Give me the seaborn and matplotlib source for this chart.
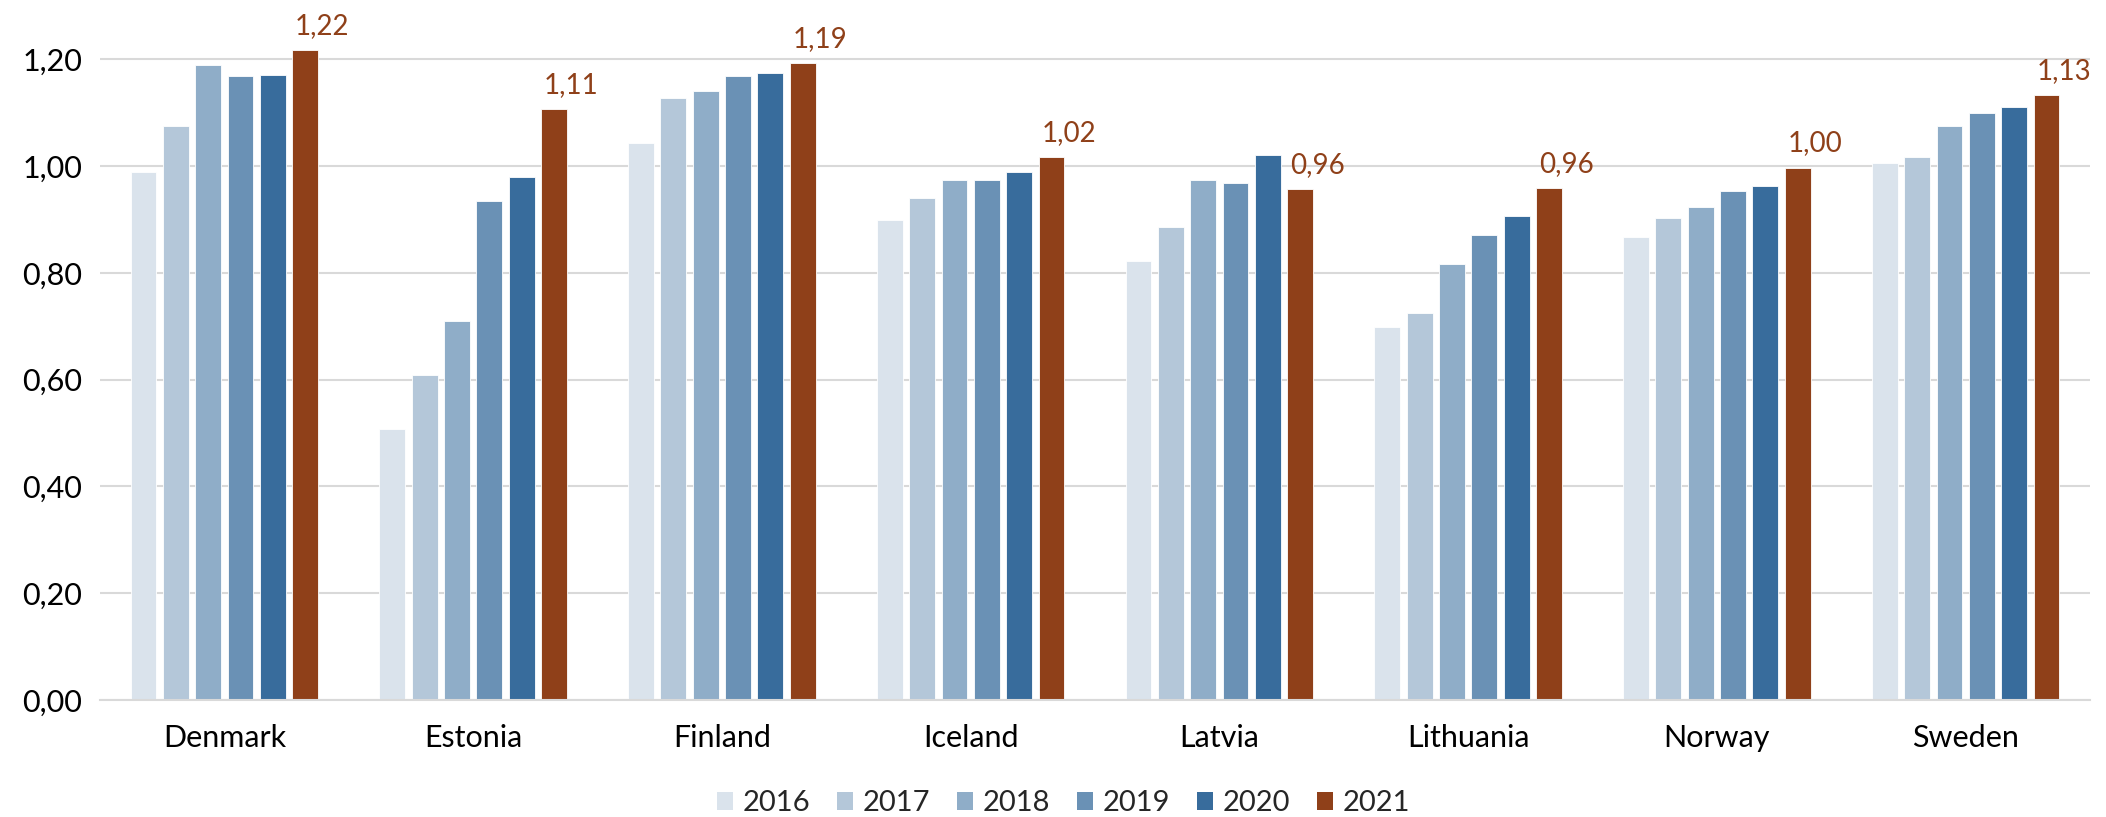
import matplotlib
matplotlib.use("Agg")
import matplotlib.pyplot as plt
from matplotlib.patches import Patch
import seaborn as sns
import pandas as pd

countries = ["Denmark", "Estonia", "Finland", "Iceland", "Latvia", "Lithuania", "Norway", "Sweden"]
years = ["2016", "2017", "2018", "2019", "2020", "2021"]
v2016 = [0.988, 0.508, 1.044, 0.898, 0.823, 0.698, 0.867, 1.005]
v2017 = [1.074, 0.608, 1.127, 0.941, 0.886, 0.724, 0.903, 1.016]
v2018 = [1.190, 0.710, 1.141, 0.974, 0.974, 0.817, 0.924, 1.074]
v2019 = [1.168, 0.935, 1.168, 0.974, 0.969, 0.870, 0.954, 1.100]
v2020 = [1.170, 0.980, 1.174, 0.989, 1.021, 0.906, 0.963, 1.111]
v2021 = [1.217, 1.107, 1.192, 1.016, 0.957, 0.959, 0.997, 1.133]
colors = ["#DAE3EC", "#B4C7D9", "#8FADC8", "#6A91B5", "#386C9C", "#8F4019"]

series = [v2016, v2017, v2018, v2019, v2020, v2021]
rows = []
for y, vals in zip(years, series):
    for c, v in zip(countries, vals):
        rows.append({"country": c, "year": y, "value": v})
df = pd.DataFrame(rows)

sns.set_theme(style="white")
plt.rcParams["font.family"] = ["Lato", "DejaVu Sans"]
FS = 22

fig = plt.figure(figsize=(21.06, 8.17), dpi=100)
ax = fig.add_axes([100 / 2106, 117 / 817, 1990 / 2106, 700 / 817])

sns.barplot(data=df, x="country", y="value", hue="year", hue_order=years,
            order=countries, palette=colors, width=0.78, gap=0.2,
            ax=ax, legend=False, edgecolor="white", linewidth=0.6, saturation=1)

ax.set_ylim(0, 700 / 534)
ticks = [0, 0.2, 0.4, 0.6, 0.8, 1.0, 1.2]
ax.set_yticks(ticks)
ax.set_yticklabels([f"{t:.2f}".replace(".", ",") for t in ticks])
ax.yaxis.grid(True, color="#D9D9D9", linewidth=1.5)
ax.set_axisbelow(True)
for s in ["top", "right", "left"]:
    ax.spines[s].set_visible(False)
ax.spines["bottom"].set_color("#D9D9D9")
ax.spines["bottom"].set_linewidth(1.5)
ax.set_xlabel("")
ax.set_ylabel("")
ax.tick_params(axis="x", length=0, pad=17, labelsize=FS, colors="black")
ax.tick_params(axis="y", length=0, pad=13, labelsize=FS, colors="black")
ax.set_xlim(-0.5, len(countries) - 0.5)

# data labels for last series
last = ax.containers[-1]
for patch, v in zip(last.patches, v2021):
    ax.annotate(f"{v:.2f}".replace(".", ","), (patch.get_x(), patch.get_height()),
                xytext=(2, 8), textcoords="offset points", ha="left", va="bottom",
                fontsize=20, color="#8F4019")

handles = [Patch(facecolor=c, edgecolor="none", label=y) for c, y in zip(colors, years)]
fig.legend(handles=handles, loc="center", bbox_to_anchor=(0.505, 0.017), ncol=6,
           frameon=False, fontsize=21, handlelength=0.55, handleheight=0.55,
           handletextpad=0.35, columnspacing=0.9)

fig.savefig("out.png", dpi=100)
